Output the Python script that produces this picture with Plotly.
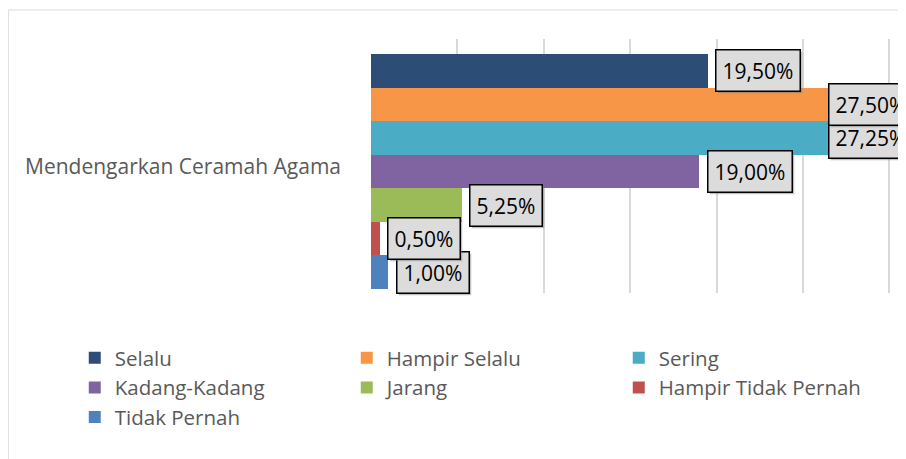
import plotly.graph_objects as go

category = ["Mendengarkan Ceramah Agama"]
series_names = ["Selalu", "Hampir Selalu", "Sering", "Kadang-Kadang",
                "Jarang", "Hampir Tidak Pernah", "Tidak Pernah"]
values = [19.50, 27.50, 27.25, 19.00, 5.25, 0.50, 1.00]
colors = ["#2C4D75", "#F79646", "#4BACC6", "#8064A2",
          "#9BBB59", "#C0504D", "#4F81BD"]

FONT = "Open Sans"
X_MAX = 30.1
LABEL_GAP = 0.42        # data units between bar end and label box
LABEL_MAX_LEFT = 26.45  # labels pushed back inside the chart frame

W, H = 898, 451
L, R, T, B = 363, 15.3, 31, 166
PW, PH = W - L - R, H - T - B

fig = go.Figure()
n = len(series_names)
for name, val, col in zip(series_names, values, colors):
    fig.add_trace(go.Bar(
        name=name, y=category, x=[val], orientation="h",
        marker=dict(color=col, line=dict(width=0)),
        hoverinfo="skip",
    ))

annotations = []
for i in reversed(range(n)):
    val = values[i]
    label = f"{val:.2f}".replace(".", ",") + "%"
    ypos = -0.5 + (i + 0.5) / n
    xpos = min(val + LABEL_GAP, LABEL_MAX_LEFT)
    # shadow
    annotations.append(dict(
        x=xpos, y=ypos, xref="x", yref="y", text=label, showarrow=False,
        xanchor="left", yanchor="middle", xshift=2, yshift=-2,
        font=dict(family=FONT, size=21, color="rgba(0,0,0,0)"),
        bgcolor="rgba(120,120,120,0.45)", borderpad=6, borderwidth=1.5,
        bordercolor="rgba(0,0,0,0)",
    ))
    annotations.append(dict(
        x=xpos, y=ypos, xref="x", yref="y", text=label, showarrow=False,
        xanchor="left", yanchor="middle",
        font=dict(family=FONT, size=21, color="#000000"),
        bgcolor="#DCDCDC", borderpad=6, borderwidth=1.5, bordercolor="#000000",
    ))

fig.update_layout(
    width=W, height=H,
    margin=dict(l=L, r=R, t=T, b=B, pad=0),
    paper_bgcolor="white", plot_bgcolor="white",
    barmode="group", bargap=0, bargroupgap=0,
    font=dict(family=FONT, size=21, color="#595959"),
    xaxis=dict(range=[0, X_MAX], dtick=5, showticklabels=False,
               showgrid=True, gridcolor="#D9D9D9", gridwidth=2,
               zeroline=False, showline=False, ticks=""),
    yaxis=dict(type="category", range=[0.517, -0.5638], showgrid=False,
               zeroline=False, showline=False, ticks="",
               ticklabelstandoff=29, ticklabelshift=5,
               tickfont=dict(family=FONT, size=21, color="#595959")),
    legend=dict(orientation="h", x=-0.5697, y=-0.177, xanchor="left",
                yanchor="top", entrywidth=227, entrywidthmode="pixels",
                font=dict(family=FONT, size=20.5, color="#595959"),
                itemwidth=30, traceorder="normal"),
    annotations=annotations,
    shapes=[dict(type="rect", xref="paper", yref="paper",
                 x0=(0.5 - L) / PW, x1=2, y0=-2, y1=(PH + T - 2) / PH,
                 line=dict(color="#D9D9D9", width=1), fillcolor="rgba(0,0,0,0)",
                 layer="below")],
)

fig.write_html("out.html")
